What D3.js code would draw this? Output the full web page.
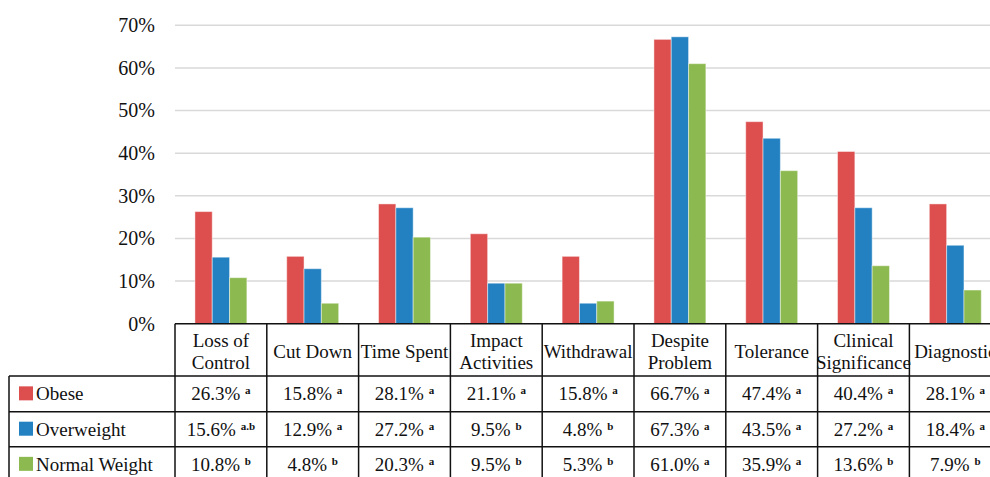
<!DOCTYPE html>
<html>
<head>
<meta charset="utf-8">
<script src="https://cdn.jsdelivr.net/npm/d3@7"></script>
<style>
  body { margin: 0; background: #fff; }
  svg { display: block; }
</style>
</head>
<body>
<div class="chart-holder"></div>
<script>
// Categories (header labels, split on lines)
const categories = ["Loss of Control", "Cut Down", "Time Spent", "Impact Activities", "Withdrawal",
  "Despite Problem", "Tolerance", "Clinical Significance", "Diagnostic"];
const category_lines = [["Loss of", "Control"], ["Cut Down"], ["Time Spent"], ["Impact", "Activities"],
  ["Withdrawal"], ["Despite", "Problem"], ["Tolerance"], ["Clinical", "Significance"], ["Diagnostic"]];

const series_names = ["Obese", "Overweight", "Normal Weight"];
const series_colors = ["#dd4f4f", "#2381c1", "#8dba50"];

// Values in percent
const obese_values = [26.3, 15.8, 28.1, 21.1, 15.8, 66.7, 47.4, 40.4, 28.1];
const overweight_values = [15.6, 12.9, 27.2, 9.5, 4.8, 67.3, 43.5, 27.2, 18.4];
const normal_values = [10.8, 4.8, 20.3, 9.5, 5.3, 61.0, 35.9, 13.6, 7.9];

// Significance letters
const obese_sig = ["a", "a", "a", "a", "a", "a", "a", "a", "a"];
const overweight_sig = ["a.b", "a", "a", "b", "b", "a", "a", "a", "a"];
const normal_sig = ["b", "b", "a", "b", "b", "a", "a", "b", "b"];

const y_ticks = [0, 10, 20, 30, 40, 50, 60, 70];

const all_values = [obese_values, overweight_values, normal_values];
const all_sig = [obese_sig, overweight_sig, normal_sig];

const width = 990;
const height = 477;
const serif = '"Liberation Serif", "Times New Roman", Tinos, "DejaVu Serif", serif';

const svg = d3.select('.chart-holder').append('svg')
  .attr('width', width)
  .attr('height', height)
  .attr('font-family', serif)
  .style('font-family', serif);

// Scales
const plot_left = 175;
const band_w = 91.8;
const x0 = d3.scaleBand()
  .domain(categories)
  .range([plot_left, plot_left + band_w * categories.length])
  .padding(0);

const x1 = d3.scaleBand()
  .domain(series_names)
  .range([band_w * 0.217, band_w * 0.783])
  .padding(0);

const y = d3.scaleLinear()
  .domain([0, 70])
  .range([323.7, 25.3]);

// Gridlines
svg.append('g')
  .selectAll('line')
  .data(y_ticks.filter(d => d > 0))
  .join('line')
  .attr('x1', plot_left)
  .attr('x2', width)
  .attr('y1', d => y(d))
  .attr('y2', d => y(d))
  .attr('stroke', '#d9d9d9')
  .attr('stroke-width', 1.5);

// Y axis labels
const y_axis = svg.append('g')
  .attr('transform', 'translate(' + (plot_left - 20) + ',0)')
  .call(d3.axisLeft(y).tickValues(y_ticks).tickFormat(d => d + '%').tickSize(0).tickPadding(0));
y_axis.attr('font-family', serif);
y_axis.select('.domain').remove();
y_axis.selectAll('text')
  .attr('font-family', serif)
  .style('font-family', serif)
  .style('font-size', '20px')
  .attr('fill', '#111');

// Bars
const groups = svg.append('g')
  .selectAll('g')
  .data(categories)
  .join('g')
  .attr('transform', d => 'translate(' + x0(d) + ',0)');

groups.selectAll('rect')
  .data((d, i) => series_names.map((s, k) => ({ s: s, k: k, v: all_values[k][i] })))
  .join('rect')
  .attr('x', d => x1(d.s))
  .attr('y', d => y(d.v))
  .attr('width', x1.bandwidth())
  .attr('height', d => y(0) - y(d.v))
  .attr('fill', d => series_colors[d.k])
  .attr('stroke', 'rgba(255,255,255,0.45)')
  .attr('stroke-width', 1);

// Table
const table_left = 9;
const header_bottom = 376;
const row_lines = [376, 411.7, 446.7, 482];
const table_right = x0.range()[1];

const grid = svg.append('g')
  .attr('stroke', '#111')
  .attr('stroke-width', 1.5);

// horizontal lines
grid.append('line')
  .attr('x1', plot_left).attr('x2', table_right)
  .attr('y1', y(0)).attr('y2', y(0));
row_lines.forEach(ly => {
  grid.append('line')
    .attr('x1', table_left).attr('x2', table_right)
    .attr('y1', ly).attr('y2', ly);
});

// vertical lines
grid.append('line')
  .attr('x1', table_left).attr('x2', table_left)
  .attr('y1', header_bottom).attr('y2', height);
categories.forEach(c => {
  grid.append('line')
    .attr('x1', x0(c)).attr('x2', x0(c))
    .attr('y1', y(0)).attr('y2', height);
});
grid.append('line')
  .attr('x1', table_right).attr('x2', table_right)
  .attr('y1', y(0)).attr('y2', height);

// Header labels
const header = svg.append('g');
category_lines.forEach((lines, i) => {
  const cx = x0(categories[i]) + band_w / 2;
  const t = header.append('text')
    .attr('x', cx)
    .attr('text-anchor', 'middle')
    .attr('fill', '#111')
    .style('font-size', '19px');
  if (lines.length === 2) {
    t.append('tspan').attr('x', cx).attr('y', 347).text(lines[0]);
    t.append('tspan').attr('x', cx).attr('y', 369).text(lines[1]);
  } else {
    t.append('tspan').attr('x', cx).attr('y', 358).text(lines[0]);
  }
});

// Rows
series_names.forEach((s, k) => {
  const mid = (row_lines[k] + row_lines[k + 1]) / 2;

  svg.append('rect')
    .attr('x', 19)
    .attr('y', mid - 7.5)
    .attr('width', 14)
    .attr('height', 14)
    .attr('fill', series_colors[k]);

  svg.append('text')
    .attr('x', 36)
    .attr('y', mid + 6.5)
    .attr('fill', '#111')
    .style('font-size', '19px')
    .text(s);

  categories.forEach((c, i) => {
    const cx = x0(c) + band_w / 2;
    const t = svg.append('text')
      .attr('x', cx)
      .attr('y', mid + 6.5)
      .attr('text-anchor', 'middle')
      .attr('fill', '#111')
      .style('font-size', '19px');
    t.append('tspan').text(all_values[k][i].toFixed(1) + '% ');
    t.append('tspan')
      .attr('dy', -6)
      .style('font-size', '11px')
      .style('font-weight', 'bold')
      .text(all_sig[k][i]);
  });
});
</script>
</body>
</html>
